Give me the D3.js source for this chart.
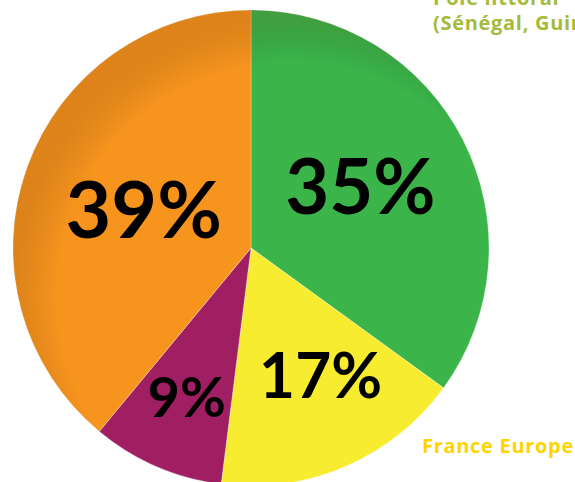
<!DOCTYPE html>
<html>
<head>
<meta charset="utf-8">
<script src="https://cdn.jsdelivr.net/npm/d3@7"></script>
<style>
	body { margin: 0; background: white; }
	svg { display: block; }
</style>
</head>
<body>
<script>
// slices, clockwise from 12 o'clock
var categories = ['Pôle littoral', 'France Europe', 'Autre', 'Autre pôle']
var shares = [35, 17, 9, 39]
var valueLabels = ['35%', '17%', '9%', '39%']

var colors = ['#3bb54a', '#f8ec31', '#9f1f62', '#f7941e']

// where each percentage sits: distance from centre, then a small nudge
var labelRadius = [125, 145, 162, 114]
var labelNudge = [[-2, -5], [12, -5], [0, 0], [0, 0]]

var width = 575,
	height = 482,
	cx = 251,
	cy = 248,
	radius = 238

var svg = d3.select('body').append('svg')
	.attr('width', width)
	.attr('height', height)

var defs = svg.append('defs')
var shade = defs.append('radialGradient')
	.attr('id', 'shade')
	.attr('cx', '0.58').attr('cy', '0.6')
	.attr('r', '0.58')
shade.append('stop').attr('offset', '0.84').attr('stop-color', '#000').attr('stop-opacity', 0)
shade.append('stop').attr('offset', '1').attr('stop-color', '#5a2a00').attr('stop-opacity', 0.16)

var pie = d3.pie().sort(null).value(d => d)
var arcs = pie(shares)

var arc = d3.arc()
	.innerRadius(0)
	.outerRadius(radius)

var g = svg.append('g')
	.attr('transform', 'translate(' + cx + ',' + cy + ')')

g.selectAll('path.slice')
	.data(arcs)
	.enter()
	.append('path')
		.attr('class', 'slice')
		.attr('d', arc)
		.attr('fill', (d, i) => colors[i])
		.attr('stroke', 'white')
		.attr('stroke-opacity', 0.5)
		.attr('stroke-width', 0.6)

// soft darkening near the rim
g.append('circle')
	.attr('r', radius)
	.attr('fill', 'url(#shade)')
	.style('pointer-events', 'none')

var fontSize = d3.scaleLinear()
	.domain([9, 39])
	.range([56, 79])

g.selectAll('text.pct')
	.data(arcs)
	.enter()
	.append('text')
		.attr('class', 'pct')
		.attr('transform', function (d, i) {
			var p = d3.arc().innerRadius(labelRadius[i]).outerRadius(labelRadius[i]).centroid(d)
			var x = p[0] + labelNudge[i][0]
			var y = p[1] + labelNudge[i][1] + fontSize(d.data) * 0.36
			return 'translate(' + x + ',' + y + ')'
		})
		.attr('text-anchor', 'middle')
		.style('font-family', 'Lato, sans-serif')
		.style('font-weight', 700)
		.style('font-size', d => fontSize(d.data) + 'px')
		.attr('fill', '#000')
		.text((d, i) => valueLabels[i])

// outside labels, cut by the frame as in the original
var side = svg.append('g')
	.style('font-family', '"Open Sans", sans-serif')
	.style('font-weight', 700)
	.style('font-size', '20px')
	.style('letter-spacing', '0.7px')

side.append('text')
	.attr('x', 433).attr('y', 5)
	.attr('fill', '#a6ba3c')
	.text('Pôle littoral')
side.append('text')
	.attr('x', 433).attr('y', 30)
	.attr('fill', '#a6ba3c')
	.text('(Sénégal, Guinée)')

side.append('text')
	.attr('x', 422).attr('y', 453)
	.attr('fill', '#ffd400')
	.text('France Europe')
</script>
</body>
</html>
